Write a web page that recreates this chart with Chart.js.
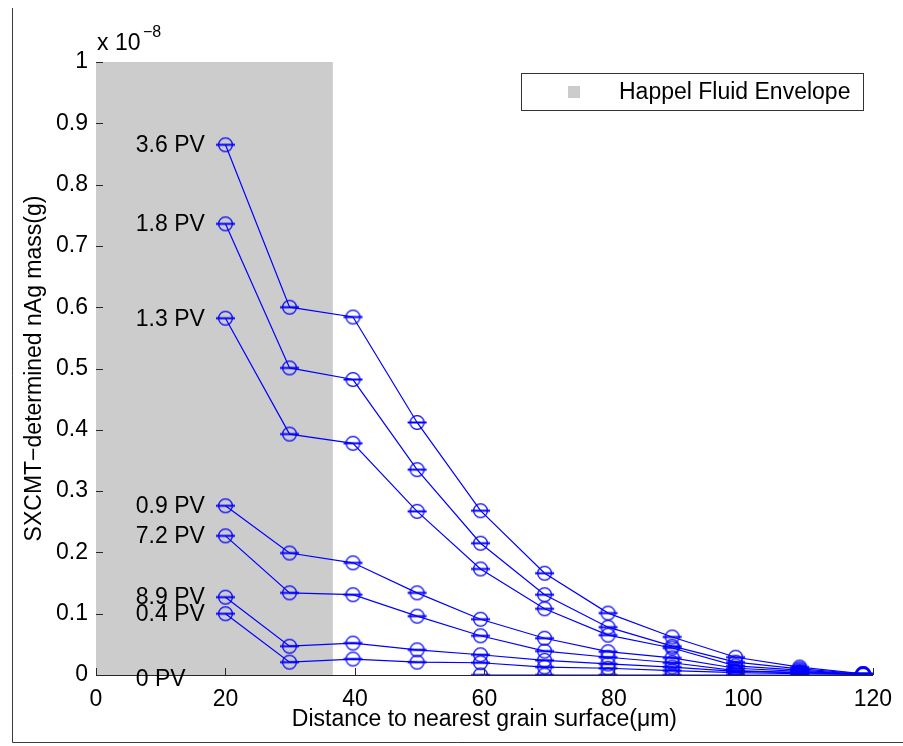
<!DOCTYPE html>
<html>
<head>
<meta charset="utf-8">
<script src="https://cdn.jsdelivr.net/npm/chart.js@4.4.0/dist/chart.umd.min.js"></script>
<style>
  html, body { margin: 0; padding: 0; background: #fff; }
  canvas { display: block; }
</style>
</head>
<body>
<canvas id="c" width="903" height="746"></canvas>
<script>
// Distance to the nearest grain surface (µm)
const distances = [20, 29.9, 39.7, 49.6, 59.4, 69.3, 79.1, 89, 98.8, 108.7, 118.5];

// SXCMT-determined nAg mass, in units of 1e-8 g, one array per pore volume stage
const mass36PV = [0.865, 0.600, 0.584, 0.412, 0.268, 0.166, 0.101, 0.062, 0.029, 0.013, 0.002];
const mass18PV = [0.736, 0.501, 0.482, 0.335, 0.215, 0.131, 0.078, 0.047, 0.021, 0.010, 0.002];
const mass13PV = [0.582, 0.393, 0.378, 0.267, 0.173, 0.108, 0.065, 0.044, 0.015, 0.008, 0.001];
const mass09PV = [0.276, 0.199, 0.183, 0.134, 0.091, 0.060, 0.038, 0.028, 0.011, 0.006, 0.001];
const mass72PV = [0.227, 0.134, 0.131, 0.096, 0.064, 0.039, 0.029, 0.020, 0.007, 0.004, 0.001];
const mass89PV = [0.127, 0.047, 0.052, 0.041, 0.033, 0.024, 0.018, 0.013, 0.006, 0.004, 0.002];
const mass04PV = [0.100, 0.021, 0.026, 0.021, 0.020, 0.013, 0.011, 0.007, 0.004, 0.002, 0.001];
const mass0PV  = [null, null, null, null, 0, 0, 0, 0, 0, 0, 0];

const seriesNames = ['3.6 PV', '1.8 PV', '1.3 PV', '0.9 PV', '7.2 PV', '8.9 PV', '0.4 PV', '0 PV'];
const seriesValues = [mass36PV, mass18PV, mass13PV, mass09PV, mass72PV, mass89PV, mass04PV, mass0PV];

// Happel fluid envelope extent (µm) and its legend text
const envelopeEdge = 36.6;
const envelopeName = 'Happel Fluid Envelope';

// Axis ticks
const xTicks = [0, 20, 40, 60, 80, 100, 120];
const yTicks = [0, 0.1, 0.2, 0.3, 0.4, 0.5, 0.6, 0.7, 0.8, 0.9, 1];

const FONT = "'Liberation Sans', Arial, Helvetica, sans-serif";
const BLUE = '#0000ff';
Chart.defaults.font.family = FONT;
Chart.defaults.color = '#000';

// Circle marker with the flat error-bar caps drawn through it
function makeMarker() {
  const cv = document.createElement('canvas');
  cv.width = 21; cv.height = 17;
  const g = cv.getContext('2d');
  g.strokeStyle = BLUE;
  g.lineWidth = 1.3;
  g.beginPath();
  g.arc(10.5, 8.5, 6.9, 0, Math.PI * 2);
  g.stroke();
  g.fillStyle = BLUE;
  g.fillRect(1, 7.5, 19, 2);
  return cv;
}
const marker = makeMarker();

const datasets = [];
seriesValues.forEach((vals, i) => {
  datasets.push({
    label: seriesNames[i],
    data: distances.map((d, j) => ({ x: d, y: vals[j] })),
    borderColor: BLUE,
    backgroundColor: BLUE,
    borderWidth: 1.2,
    pointStyle: marker,
    pointRadius: 7,
    spanGaps: false,
    tension: 0,
    order: 0
  });
});
// Shaded envelope band, drawn beneath the series
datasets.push({
  label: envelopeName,
  data: [{ x: 0, y: yTicks[yTicks.length - 1] }, { x: envelopeEdge, y: yTicks[yTicks.length - 1] }],
  borderWidth: 0,
  borderColor: 'rgba(0,0,0,0)',
  backgroundColor: '#cccccc',
  fill: 'origin',
  pointRadius: 0,
  order: 10
});

const decor = {
  id: 'decor',
  beforeDraw(chart) {
    const ctx = chart.ctx;
    ctx.save();
    ctx.fillStyle = '#fff';
    ctx.fillRect(0, 0, chart.width, chart.height);
    ctx.strokeStyle = '#3a3a3a';
    ctx.lineWidth = 1;
    ctx.beginPath();
    ctx.moveTo(12.5, 8);
    ctx.lineTo(12.5, 742.5);
    ctx.lineTo(chart.width, 742.5);
    ctx.stroke();
    ctx.restore();
  },
  afterDatasetsDraw(chart) {
    // series names beside the first point of each curve
    const ctx = chart.ctx;
    const xs = chart.scales.x, ys = chart.scales.y;
    ctx.save();
    ctx.font = '23px ' + FONT;
    ctx.fillStyle = '#000';
    ctx.textAlign = 'left';
    ctx.textBaseline = 'middle';
    seriesValues.forEach((vals, i) => {
      const y0 = vals[0] !== null ? vals[0] : 0;
      const nudge = vals[0] !== null ? 1 : 5;
      ctx.fillText(seriesNames[i], xs.getPixelForValue(6.15), ys.getPixelForValue(y0) + nudge);
    });
    ctx.restore();
  },
  afterDraw(chart) {
    const ctx = chart.ctx;
    const xs = chart.scales.x, ys = chart.scales.y;
    const area = chart.chartArea;
    ctx.save();
    // inward tick marks
    ctx.strokeStyle = '#262626';
    ctx.lineWidth = 1;
    ctx.beginPath();
    xTicks.forEach(v => {
      const px = Math.round(xs.getPixelForValue(v)) + 0.5;
      ctx.moveTo(px, area.bottom);
      ctx.lineTo(px, area.bottom - 7);
    });
    yTicks.forEach(v => {
      const py = Math.round(ys.getPixelForValue(v)) + 0.5;
      ctx.moveTo(area.left, py);
      ctx.lineTo(area.left + 7, py);
    });
    ctx.stroke();

    // exponent of the y axis
    ctx.fillStyle = '#000';
    ctx.textAlign = 'left';
    ctx.textBaseline = 'alphabetic';
    ctx.font = '23px ' + FONT;
    ctx.fillText('x 10', 97, 50);
    ctx.font = '16px ' + FONT;
    ctx.fillText('\u22128', 143, 37);

    // legend box
    ctx.fillStyle = '#fff';
    ctx.fillRect(521, 73, 342, 37);
    ctx.strokeStyle = '#333';
    ctx.strokeRect(521.5, 73.5, 342, 37);
    ctx.fillStyle = '#cccccc';
    ctx.fillRect(568, 86, 12, 12);
    ctx.fillStyle = '#000';
    ctx.font = '23px ' + FONT;
    ctx.textBaseline = 'middle';
    ctx.fillText(envelopeName, 619, 93);
    ctx.restore();
  }
};

new Chart(document.getElementById('c'), {
  type: 'line',
  data: { datasets },
  plugins: [decor],
  options: {
    responsive: false,
    animation: false,
    events: [],
    layout: { padding: { left: 0, right: 28, top: 62, bottom: 0 } },
    plugins: { legend: { display: false }, tooltip: { enabled: false } },
    scales: {
      x: {
        type: 'linear',
        min: 0, max: 120,
        afterBuildTicks: s => { s.ticks = xTicks.map(v => ({ value: v })); },
        afterFit: s => { s.height = 71; },
        grid: { display: false, drawTicks: false },
        border: { display: true, color: '#262626', width: 1 },
        ticks: { font: { size: 23 }, color: '#000', padding: 11, maxRotation: 0 },
        title: {
          display: true,
          text: 'Distance to nearest grain surface(\u03bcm)',
          font: { size: 23 },
          color: '#000',
          padding: { top: 0, bottom: 13 }
        }
      },
      y: {
        type: 'linear',
        min: 0, max: 1,
        afterBuildTicks: s => { s.ticks = yTicks.map(v => ({ value: v })); },
        afterFit: s => { s.width = 96; },
        grid: { display: false, drawTicks: false },
        border: { display: true, color: '#262626', width: 1 },
        ticks: {
          font: { size: 23 }, color: '#000', padding: 8,
          callback: v => String(Math.round(v * 10) / 10)
        },
        title: {
          display: true,
          text: 'SXCMT\u2212determined nAg mass(g)',
          font: { size: 23 },
          color: '#000',
          padding: { top: 21, bottom: 0 }
        }
      }
    }
  }
});
</script>
</body>
</html>
